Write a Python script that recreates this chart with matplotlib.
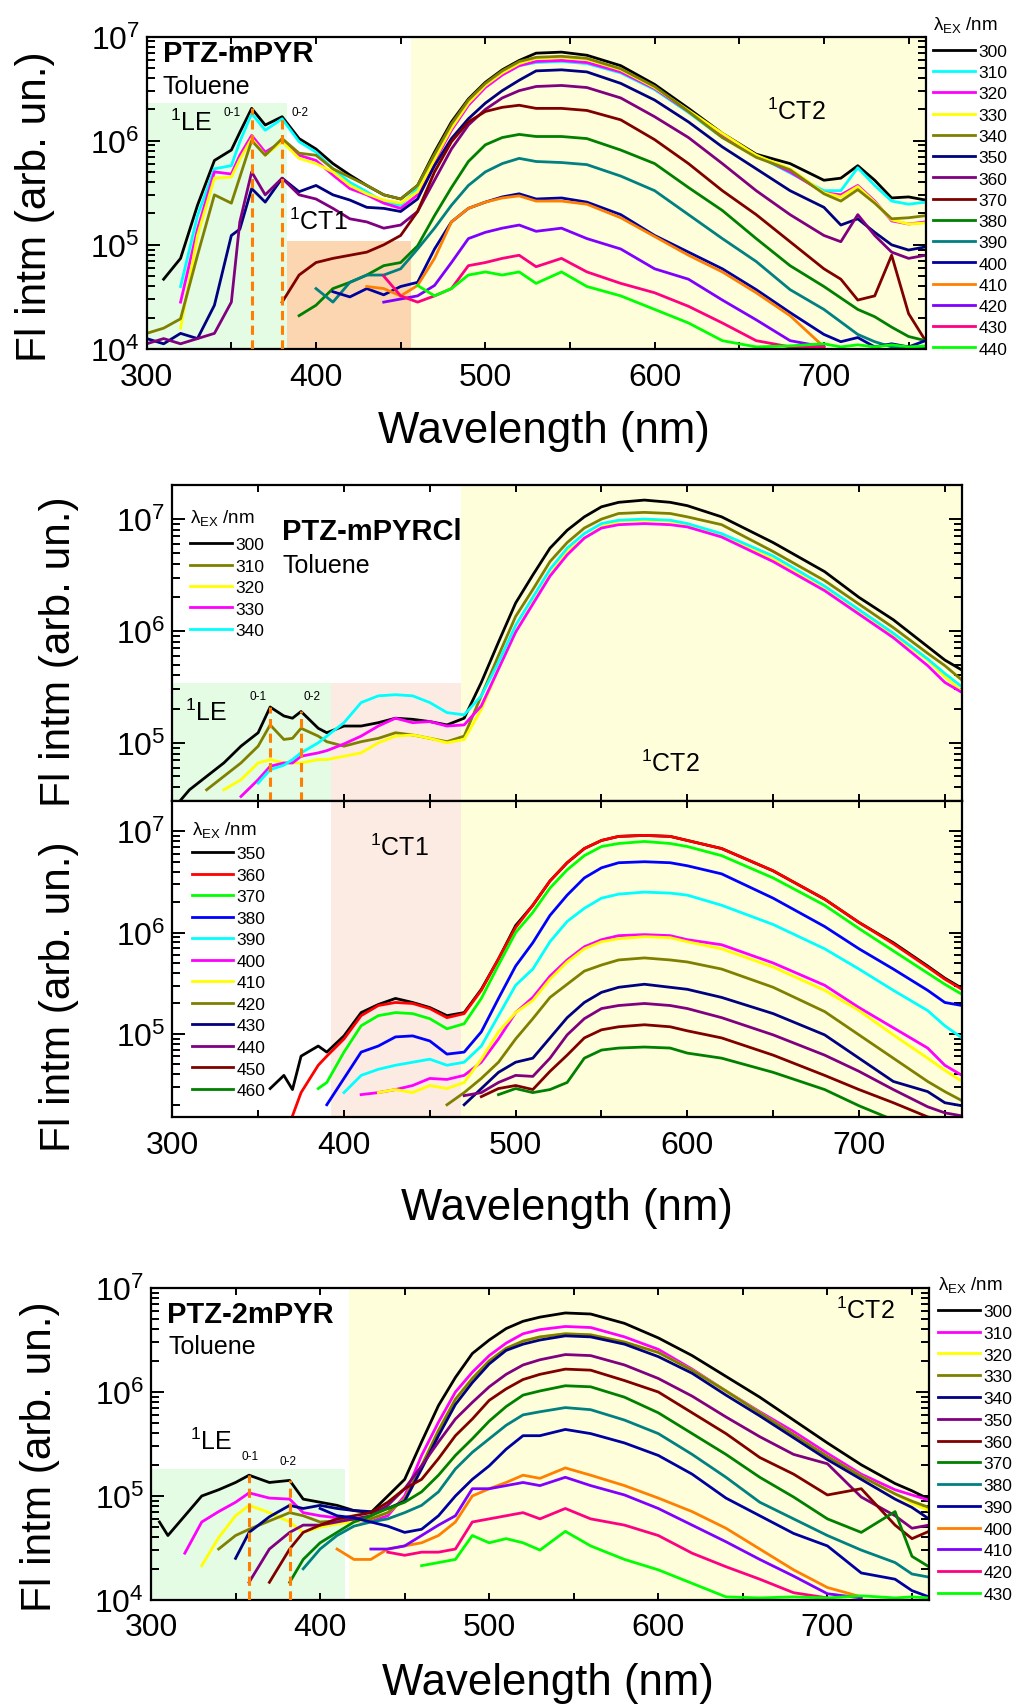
import numpy as np
import matplotlib
matplotlib.use("Agg")
import matplotlib.pyplot as plt
from matplotlib.ticker import MultipleLocator, LogLocator, NullFormatter, FuncFormatter

nan = np.nan

# log10(Fl intensity), one list per excitation wavelength

# --- PTZ-mPYR ---
wl_a = [300, 310, 320, 330, 340, 350, 355, 362, 370, 380, 390, 400, 410, 420, 430, 440, 450, 460, 470, 480,
        490, 500, 510, 520, 530, 545, 560, 580, 600, 620, 640, 660, 680, 700, 710, 720, 730, 740, 750, 760]
a300 = [nan, 4.67, 4.87, 5.38, 5.81, 5.91, 6.08, 6.31, 6.15, 6.23, 6.02, 5.92, 5.78, 5.67, 5.57, 5.48, 5.44, 5.57, 5.89, 6.18,
        6.40, 6.56, 6.68, 6.77, 6.84, 6.85, 6.82, 6.72, 6.54, 6.31, 6.07, 5.87, 5.78, 5.62, 5.64, 5.76, 5.62, 5.45, 5.46, 5.43]
a310 = [nan, nan, 4.60, 5.28, 5.73, 5.76, 5.99, 6.26, 6.10, 6.21, 5.99, 5.89, 5.73, 5.60, 5.51, 5.41, 5.38, 5.54, 5.84, 6.13,
        6.36, 6.52, 6.64, 6.72, 6.75, 6.76, 6.74, 6.65, 6.49, 6.27, 6.03, 5.86, 5.69, 5.52, 5.52, 5.74, 5.57, 5.42, 5.39, 5.41]
a320 = [nan, nan, 4.45, 5.15, 5.70, 5.68, 5.86, 6.05, 5.89, 5.99, 5.86, 5.81, 5.67, 5.54, 5.48, 5.40, 5.35, 5.48, 5.80, 6.10,
        6.34, 6.51, 6.63, 6.72, 6.76, 6.77, 6.75, 6.66, 6.50, 6.28, 6.05, 5.86, 5.70, 5.50, 5.48, 5.57, 5.42, 5.23, 5.20, 5.22]
a330 = [nan, nan, 4.20, 5.09, 5.64, 5.65, 5.82, 6.02, 5.86, 5.99, 5.83, 5.78, 5.70, 5.57, 5.49, 5.43, 5.40, 5.51, 5.82, 6.12,
        6.36, 6.53, 6.65, 6.74, 6.79, 6.80, 6.78, 6.68, 6.51, 6.29, 6.07, 5.86, 5.73, 5.50, 5.46, 5.56, 5.41, 5.24, 5.20, 5.21]
a340 = [4.15, 4.20, 4.29, 4.90, 5.48, 5.40, 5.65, 6.00, 5.86, 6.02, 5.88, 5.86, 5.73, 5.65, 5.57, 5.48, 5.44, 5.57, 5.87, 6.16,
        6.39, 6.55, 6.67, 6.76, 6.80, 6.81, 6.79, 6.69, 6.52, 6.28, 6.03, 5.84, 5.72, 5.49, 5.42, 5.53, 5.40, 5.25, 5.26, 5.28]
a350 = [4.10, 4.05, 4.15, 4.10, 4.42, 5.09, 5.15, 5.54, 5.41, 5.64, 5.51, 5.57, 5.48, 5.43, 5.36, 5.35, 5.32, 5.44, 5.76, 6.02,
        6.21, 6.36, 6.48, 6.58, 6.67, 6.68, 6.66, 6.55, 6.39, 6.18, 5.94, 5.73, 5.52, 5.36, 5.19, 5.25, 5.12, 5.00, 4.95, 4.98]
a360 = [4.05, 4.10, 4.05, 4.10, 4.15, 4.45, 5.22, 5.70, 5.48, 5.64, 5.48, 5.44, 5.35, 5.25, 5.22, 5.16, 5.19, 5.32, 5.62, 5.92,
        6.15, 6.30, 6.41, 6.48, 6.52, 6.53, 6.51, 6.41, 6.23, 6.03, 5.78, 5.52, 5.29, 5.09, 5.03, 5.29, 5.09, 4.93, 4.87, 4.90]
a370 = [nan, nan, nan, nan, nan, nan, nan, nan, nan, 4.45, 4.71, 4.83, 4.87, 4.90, 4.93, 5.00, 5.09, 5.32, 5.70, 5.99,
        6.18, 6.28, 6.32, 6.34, 6.31, 6.31, 6.29, 6.20, 6.01, 5.78, 5.52, 5.29, 5.03, 4.77, 4.67, 4.47, 4.51, 4.90, 4.34, 4.08]
a380 = [nan, nan, nan, nan, nan, nan, nan, nan, nan, nan, 4.32, 4.42, 4.58, 4.64, 4.71, 4.80, 4.83, 4.99, 5.28, 5.55,
        5.80, 5.96, 6.03, 6.06, 6.04, 6.04, 6.02, 5.91, 5.78, 5.55, 5.33, 5.06, 4.80, 4.60, 4.49, 4.38, 4.31, 4.21, 4.12, 4.08]
a390 = [nan, nan, nan, nan, nan, nan, nan, nan, nan, nan, nan, 4.58, 4.45, 4.64, 4.71, 4.71, 4.77, 4.96, 5.16, 5.38,
        5.57, 5.70, 5.78, 5.83, 5.80, 5.79, 5.77, 5.66, 5.52, 5.29, 5.06, 4.84, 4.57, 4.38, 4.26, 4.14, 4.07, 4.02, 4.02, 4.02]
a400 = [nan, nan, nan, nan, nan, nan, nan, nan, nan, nan, nan, nan, 4.55, 4.50, 4.58, 4.52, 4.60, 4.64, 4.96, 5.22,
        5.35, 5.41, 5.46, 5.49, 5.44, 5.45, 5.41, 5.29, 5.09, 4.93, 4.77, 4.57, 4.35, 4.14, 4.07, 4.11, 4.02, 4.05, 4.02, 4.08]
a410 = [nan, nan, nan, nan, nan, nan, nan, nan, nan, nan, nan, nan, nan, nan, 4.60, 4.58, 4.51, 4.61, 4.87, 5.22,
        5.35, 5.41, 5.45, 5.47, 5.42, 5.42, 5.39, 5.26, 5.08, 4.90, 4.74, 4.54, 4.32, 4.02, nan, nan, nan, nan, nan, nan]
a420 = [nan, nan, nan, nan, nan, nan, nan, nan, nan, nan, nan, nan, nan, nan, nan, 4.45, 4.48, 4.51, 4.61, 4.83,
        5.06, 5.12, 5.16, 5.19, 5.13, 5.16, 5.06, 4.96, 4.77, 4.67, 4.47, 4.28, 4.08, 4.02, nan, nan, nan, nan, nan, nan]
a430 = [nan, nan, nan, nan, nan, nan, nan, nan, nan, nan, nan, nan, nan, nan, nan, 4.70, 4.51, 4.45, 4.51, 4.58,
        4.80, 4.83, 4.87, 4.90, 4.79, 4.87, 4.74, 4.63, 4.54, 4.41, 4.25, 4.08, 4.02, 4.02, nan, nan, nan, nan, nan, nan]
a440 = [nan, nan, nan, nan, nan, nan, nan, nan, nan, nan, nan, nan, nan, nan, nan, nan, nan, 4.61, 4.51, 4.58,
        4.71, 4.74, 4.71, 4.74, 4.63, 4.74, 4.60, 4.51, 4.38, 4.25, 4.08, 4.02, 4.03, 4.05, 4.02, 4.04, 4.02, 4.04, 4.02, 4.03]
lab_a = ['300', '310', '320', '330', '340', '350', '360', '370', '380', '390', '400', '410', '420', '430', '440']
col_a = ['#000000', '#00ffff', '#ff00ff', '#ffff00', '#808000', '#000080', '#800080', '#800000',
         '#008000', '#008080', '#0000a0', '#ff8000', '#8000ff', '#ff0080', '#00ff00']
peaks_a = [362, 380]

# --- PTZ-mPYRCl ---
wl_b = [300, 305, 310, 320, 330, 340, 350, 357, 365, 370, 375, 385, 390, 400, 410, 420, 430, 440, 450, 460, 470,
        480, 490, 500, 510, 520, 530, 540, 550, 560, 575, 590, 600, 620, 650, 680, 700, 720, 740, 750, 760]
b300 = [nan, 4.49, 4.58, 4.70, 4.82, 4.97, 5.09, 5.32, 5.24, 5.22, 5.28, 5.13, 5.09, 5.15, 5.15, 5.18, 5.22, 5.21, 5.19, 5.16, 5.22,
        5.54, 5.90, 6.25, 6.50, 6.74, 6.90, 7.02, 7.11, 7.15, 7.17, 7.15, 7.12, 7.02, 6.79, 6.53, 6.30, 6.10, 5.86, 5.74, 5.65]
b310 = [nan, nan, nan, 4.58, 4.70, 4.82, 4.97, 5.16, 5.03, 5.04, 5.13, 5.06, 5.01, 4.97, 5.01, 5.04, 5.09, 5.07, 5.04, 5.01, 5.06,
        5.42, 5.78, 6.13, 6.37, 6.62, 6.79, 6.92, 7.00, 7.05, 7.06, 7.05, 7.02, 6.95, 6.71, 6.45, 6.24, 6.03, 5.80, 5.69, 5.56]
b320 = [nan, nan, nan, nan, 4.58, 4.67, 4.82, 4.85, 4.82, 4.82, 4.82, 4.85, 4.85, 4.88, 4.91, 5.00, 5.06, 5.07, 5.04, 5.00, 5.03,
        5.30, 5.66, 5.99, 6.25, 6.50, 6.71, 6.83, 6.93, 6.98, 6.99, 6.98, 6.95, 6.86, 6.64, 6.37, 6.16, 5.96, 5.74, 5.59, 5.46]
b330 = [nan, nan, nan, nan, nan, 4.52, 4.67, 4.79, 4.82, 4.82, 4.88, 4.91, 4.93, 4.99, 5.06, 5.15, 5.22, 5.18, 5.19, 5.15, 5.16,
        5.33, 5.66, 5.99, 6.24, 6.49, 6.68, 6.83, 6.92, 6.95, 6.96, 6.95, 6.93, 6.84, 6.62, 6.36, 6.15, 5.94, 5.69, 5.54, 5.45]
b340 = [nan, nan, nan, nan, nan, nan, 4.64, 4.76, 4.80, 4.85, 4.91, 5.00, 5.06, 5.18, 5.36, 5.42, 5.43, 5.42, 5.36, 5.27, 5.25,
        5.42, 5.72, 6.05, 6.30, 6.55, 6.74, 6.87, 6.96, 6.99, 7.00, 6.99, 6.96, 6.87, 6.67, 6.40, 6.19, 5.98, 5.75, 5.62, 5.50]
lab_b1 = ['300', '310', '320', '330', '340']
col_b1 = ['#000000', '#808000', '#ffff00', '#ff00ff', '#00ffff']
peaks_b = [357, 375]

c350 = [nan, nan, nan, nan, nan, nan, nan, 4.46, 4.59, 4.45, 4.78, 4.88, 4.82, 4.98, 5.21, 5.29, 5.35, 5.31, 5.26, 5.18, 5.21,
        5.44, 5.74, 6.07, 6.27, 6.51, 6.69, 6.83, 6.91, 6.95, 6.96, 6.95, 6.91, 6.83, 6.61, 6.33, 6.10, 5.90, 5.67, 5.55, 5.45]
c360 = [nan, nan, nan, nan, nan, nan, nan, nan, nan, 4.19, 4.42, 4.69, 4.78, 4.95, 5.18, 5.28, 5.31, 5.30, 5.25, 5.16, 5.20,
        5.43, 5.74, 6.05, 6.27, 6.51, 6.69, 6.83, 6.91, 6.95, 6.96, 6.95, 6.91, 6.83, 6.61, 6.33, 6.10, 5.89, 5.66, 5.54, 5.44]
c370 = [nan, nan, nan, nan, nan, nan, nan, nan, nan, nan, nan, 4.46, 4.52, 4.82, 5.08, 5.18, 5.21, 5.20, 5.15, 5.05, 5.10,
        5.35, 5.68, 6.00, 6.20, 6.44, 6.62, 6.76, 6.85, 6.88, 6.90, 6.88, 6.85, 6.76, 6.54, 6.27, 6.04, 5.82, 5.60, 5.49, 5.39]
c380 = [nan, nan, nan, nan, nan, nan, nan, nan, nan, nan, nan, nan, 4.30, 4.56, 4.82, 4.88, 4.97, 4.98, 4.93, 4.80, 4.82,
        5.02, 5.35, 5.67, 5.90, 6.17, 6.37, 6.54, 6.64, 6.69, 6.70, 6.69, 6.66, 6.58, 6.34, 6.06, 5.84, 5.64, 5.43, 5.31, 5.28]
c390 = [nan, nan, nan, nan, nan, nan, nan, nan, nan, nan, nan, nan, nan, 4.42, 4.59, 4.65, 4.69, 4.72, 4.75, 4.69, 4.72,
        4.88, 5.18, 5.48, 5.64, 5.91, 6.11, 6.24, 6.34, 6.38, 6.40, 6.39, 6.37, 6.27, 6.08, 5.84, 5.64, 5.43, 5.23, 5.08, 4.96]
c400 = [nan, nan, nan, nan, nan, nan, nan, nan, nan, nan, nan, nan, nan, nan, 4.40, 4.42, 4.45, 4.49, 4.56, 4.55, 4.59,
        4.72, 4.95, 5.21, 5.36, 5.57, 5.73, 5.86, 5.93, 5.97, 5.98, 5.97, 5.93, 5.88, 5.70, 5.48, 5.26, 5.06, 4.86, 4.69, 4.59]
c410 = [nan, nan, nan, nan, nan, nan, nan, nan, nan, nan, nan, nan, nan, nan, nan, 4.42, 4.45, 4.42, 4.49, 4.46, 4.52,
        4.75, 5.02, 5.21, 5.33, 5.54, 5.71, 5.84, 5.91, 5.94, 5.96, 5.95, 5.91, 5.84, 5.66, 5.43, 5.23, 4.99, 4.76, 4.64, 4.53]
c420 = [nan, nan, nan, nan, nan, nan, nan, nan, nan, nan, nan, nan, nan, nan, nan, nan, nan, nan, nan, 4.30, 4.42,
        4.56, 4.72, 4.95, 5.15, 5.36, 5.49, 5.62, 5.68, 5.73, 5.75, 5.73, 5.71, 5.64, 5.46, 5.22, 4.99, 4.76, 4.53, 4.43, 4.34]
c430 = [nan, nan, nan, nan, nan, nan, nan, nan, nan, nan, nan, nan, nan, nan, nan, nan, nan, nan, nan, nan, 4.30,
        4.46, 4.62, 4.72, 4.76, 4.96, 5.16, 5.31, 5.41, 5.46, 5.49, 5.46, 5.44, 5.36, 5.20, 4.99, 4.76, 4.53, 4.43, 4.32, 4.29]
c440 = [nan, nan, nan, nan, nan, nan, nan, nan, nan, nan, nan, nan, nan, nan, nan, nan, nan, nan, nan, nan, 4.39,
        4.42, 4.52, 4.59, 4.58, 4.76, 4.99, 5.15, 5.25, 5.28, 5.30, 5.28, 5.25, 5.16, 4.99, 4.79, 4.63, 4.45, 4.28, 4.22, 4.19]
c450 = [nan, nan, nan, nan, nan, nan, nan, nan, nan, nan, nan, nan, nan, nan, nan, nan, nan, nan, nan, nan, nan,
        4.38, 4.46, 4.49, 4.45, 4.63, 4.79, 4.96, 5.04, 5.07, 5.09, 5.07, 5.03, 4.96, 4.79, 4.59, 4.45, 4.32, 4.18, 4.14, 4.14]
c460 = [nan, nan, nan, nan, nan, nan, nan, nan, nan, nan, nan, nan, nan, nan, nan, nan, nan, nan, nan, nan, nan,
        nan, 4.40, 4.46, 4.42, 4.45, 4.52, 4.76, 4.84, 4.86, 4.87, 4.86, 4.81, 4.76, 4.62, 4.45, 4.29, 4.15, 4.12, 4.13, 4.12]
lab_b2 = ['350', '360', '370', '380', '390', '400', '410', '420', '430', '440', '450', '460']
col_b2 = ['#000000', '#ff0000', '#00ff00', '#0000ff', '#00ffff', '#ff00ff', '#ffff00', '#808000',
          '#000080', '#800080', '#800000', '#008000']

# --- PTZ-2mPYR ---
wl_c = [300, 305, 310, 320, 330, 340, 350, 358, 370, 382, 390, 400, 410, 420, 430, 440, 450, 460, 470,
        480, 490, 500, 510, 520, 530, 545, 560, 580, 600, 620, 640, 660, 680, 700, 720, 740, 750, 760]
d300 = [nan, 4.75, 4.62, 4.81, 5.00, 5.06, 5.13, 5.20, 5.13, 5.15, 4.97, 4.94, 4.91, 4.86, 4.84, 5.00, 5.16, 5.52, 5.87,
        6.14, 6.37, 6.50, 6.61, 6.68, 6.72, 6.76, 6.75, 6.66, 6.52, 6.35, 6.15, 5.95, 5.73, 5.51, 5.30, 5.12, 5.05, 4.97]
d310 = [nan, nan, nan, 4.45, 4.75, 4.85, 4.94, 5.03, 4.98, 4.97, 4.84, 4.81, 4.79, 4.76, 4.76, 4.81, 5.00, 5.39, 5.71,
        6.00, 6.19, 6.35, 6.47, 6.56, 6.60, 6.63, 6.62, 6.53, 6.41, 6.22, 6.01, 5.81, 5.62, 5.41, 5.21, 5.06, 5.01, 4.96]
d320 = [nan, nan, nan, nan, 4.33, 4.60, 4.81, 4.91, 4.84, 4.75, 4.65, 4.70, 4.73, 4.75, 4.78, 4.84, 4.97, 5.29, 5.63,
        5.93, 6.13, 6.30, 6.42, 6.49, 6.53, 6.56, 6.55, 6.48, 6.38, 6.21, 6.01, 5.80, 5.59, 5.38, 5.19, 5.02, 4.93, 4.86]
d330 = [nan, nan, nan, nan, nan, 4.49, 4.62, 4.68, 4.76, 4.84, 4.81, 4.75, 4.76, 4.78, 4.78, 4.84, 4.97, 5.29, 5.63,
        5.93, 6.13, 6.30, 6.42, 6.49, 6.53, 6.56, 6.55, 6.48, 6.38, 6.21, 6.01, 5.80, 5.59, 5.38, 5.19, 5.02, 4.95, 4.89]
d340 = [nan, nan, nan, nan, nan, nan, 4.40, 4.65, 4.80, 4.91, 4.88, 4.91, 4.88, 4.86, 4.85, 4.88, 4.95, 5.26, 5.58,
        5.88, 6.09, 6.27, 6.40, 6.46, 6.50, 6.54, 6.53, 6.46, 6.34, 6.18, 5.97, 5.77, 5.56, 5.35, 5.16, 4.97, 4.89, 4.78]
d350 = [nan, nan, nan, nan, nan, nan, nan, 4.17, 4.49, 4.65, 4.72, 4.72, 4.75, 4.78, 4.81, 4.91, 5.07, 5.29, 5.52,
        5.74, 5.90, 6.05, 6.17, 6.26, 6.31, 6.36, 6.35, 6.26, 6.13, 5.96, 5.76, 5.57, 5.40, 5.31, 4.99, 4.81, 4.69, 4.72]
d360 = [nan, nan, nan, nan, nan, nan, nan, nan, 4.17, 4.49, 4.65, 4.72, 4.78, 4.81, 4.84, 4.94, 5.07, 5.16, 5.36,
        5.58, 5.74, 5.92, 6.03, 6.12, 6.17, 6.22, 6.21, 6.11, 6.00, 5.80, 5.60, 5.37, 5.21, 5.01, 5.07, 4.72, 4.59, 4.66]
d370 = [nan, nan, nan, nan, nan, nan, nan, nan, nan, 4.17, 4.39, 4.55, 4.65, 4.75, 4.81, 4.88, 4.94, 5.04, 5.20,
        5.39, 5.55, 5.72, 5.86, 5.97, 6.01, 6.06, 6.05, 5.95, 5.80, 5.60, 5.40, 5.18, 4.99, 4.78, 4.65, 4.85, 4.42, 4.32]
d380 = [nan, nan, nan, nan, nan, nan, nan, nan, nan, nan, 4.30, 4.49, 4.62, 4.71, 4.75, 4.78, 4.84, 4.91, 5.04,
        5.26, 5.42, 5.55, 5.68, 5.78, 5.81, 5.85, 5.83, 5.73, 5.60, 5.40, 5.18, 4.94, 4.78, 4.62, 4.48, 4.36, 4.25, 4.22]
d390 = [nan, nan, nan, nan, nan, nan, nan, nan, nan, nan, nan, 4.88, 4.81, 4.79, 4.75, 4.71, 4.65, 4.68, 4.81,
        5.00, 5.16, 5.29, 5.45, 5.58, 5.58, 5.64, 5.60, 5.51, 5.39, 5.21, 4.98, 4.81, 4.64, 4.52, 4.26, 4.20, 4.09, 4.03]
d400 = [nan, nan, nan, nan, nan, nan, nan, nan, nan, nan, nan, nan, 4.49, 4.39, 4.39, 4.49, 4.52, 4.55, 4.62,
        4.75, 5.00, 5.07, 5.13, 5.20, 5.17, 5.27, 5.20, 5.10, 4.98, 4.85, 4.69, 4.49, 4.29, 4.12, 4.03, nan, nan, nan]
d410 = [nan, nan, nan, nan, nan, nan, nan, nan, nan, nan, nan, nan, nan, nan, 4.49, 4.49, 4.52, 4.62, 4.72,
        4.81, 5.07, 5.07, 5.10, 5.13, 5.10, 5.18, 5.10, 5.01, 4.88, 4.72, 4.56, 4.39, 4.23, 4.06, 4.02, nan, nan, nan]
d420 = [nan, nan, nan, nan, nan, nan, nan, nan, nan, nan, nan, nan, nan, nan, nan, 4.46, 4.43, 4.46, 4.46,
        4.49, 4.75, 4.78, 4.81, 4.84, 4.78, 4.88, 4.78, 4.72, 4.62, 4.45, 4.32, 4.20, 4.07, 4.02, nan, nan, nan, nan]
d430 = [nan, nan, nan, nan, nan, nan, nan, nan, nan, nan, nan, nan, nan, nan, nan, nan, nan, 4.33, 4.36,
        4.39, 4.62, 4.55, 4.59, 4.55, 4.48, 4.66, 4.52, 4.39, 4.29, 4.16, 4.03, 4.02, 4.03, 4.02, 4.04, 4.02, 4.03, 4.02]
lab_c = ['300', '310', '320', '330', '340', '350', '360', '370', '380', '390', '400', '410', '420', '430']
col_c = ['#000000', '#ff00ff', '#ffff00', '#808000', '#000080', '#800080', '#800000', '#008000',
         '#008080', '#0000a0', '#ff8000', '#8000ff', '#ff0080', '#00ff00']
peaks_c = [358, 382]

# ---------------------------------------------------------------
plt.rcParams['font.family'] = ['Liberation Sans', 'DejaVu Sans']
plt.rcParams['mathtext.fontset'] = 'custom'
plt.rcParams['mathtext.rm'] = 'Liberation Sans'
plt.rcParams['mathtext.it'] = 'Liberation Sans:italic'
plt.rcParams['mathtext.bf'] = 'Liberation Sans:bold'

W, H = 1016, 1706
fig = plt.figure(figsize=(W / 100, H / 100), dpi=100)

GREEN = '#e4fbe4'
YELLOW = '#fefedb'
PEACH = '#fcd6b0'
PINK = '#fcebe2'
DASH = '#ff8000'
HEADER = 'λ$_{\\rm EX}$ /nm'
LEG_FS = 12.5


def add_ax(l, t, r, b):
    return fig.add_axes([l / W, 1 - b / H, (r - l) / W, (b - t) / H])


def ftext(x, y, s, **kw):
    kw.setdefault('ha', 'left')
    kw.setdefault('va', 'center')
    fig.text(x / W, 1 - y / H, s, **kw)


def decade(v, pos):
    return r'$10^{%d}$' % int(round(np.log10(v)))


def style(ax, ylo, yhi, xlabels=True):
    ax.set_yscale('log')
    ax.set_xlim(300, 760)
    ax.set_ylim(ylo, yhi)
    ax.xaxis.set_major_locator(MultipleLocator(100))
    ax.xaxis.set_minor_locator(MultipleLocator(50))
    ax.yaxis.set_major_locator(LogLocator(base=10))
    ax.yaxis.set_minor_locator(LogLocator(base=10, subs=np.arange(2, 10), numticks=20))
    ax.yaxis.set_major_formatter(FuncFormatter(decade))
    ax.yaxis.set_minor_formatter(NullFormatter())
    ax.tick_params(which='both', direction='in', top=True, right=True, width=1.4)
    ax.tick_params(axis='x', which='both', length=5, labelsize=23, pad=9, labelbottom=xlabels)
    ax.tick_params(axis='y', which='major', length=9.5, labelsize=23, pad=5)
    ax.tick_params(axis='y', which='minor', length=5.5)
    for s in ax.spines.values():
        s.set_linewidth(1.6)


def shade(ax, x0, x1, y0, y1, color):
    ax.fill_between([x0, x1], y0, y1, color=color, lw=0, zorder=0)


def draw(ax, wl, series, colors):
    lines = []
    for ys, c in zip(series, colors):
        ln, = ax.plot(wl, 10 ** np.array(ys), color=c, lw=2.0, zorder=2)
        lines.append(ln)
    return lines


def dashes(ax, wl, black, peaks, ylo):
    for p in peaks:
        ax.vlines(p, ylo, 10 ** black[wl.index(p)], colors=DASH, lw=2.2,
                  linestyles=(0, (3, 1.8)), zorder=3)


def legend(ax, lines, labels, x, y_head, y_first, pitch):
    # header text, then the entries; y_first is the centre of the first entry
    ftext(x, y_head, HEADER, fontsize=13.5)
    fs_px = LEG_FS * 100 / 72
    row = 0.906 * fs_px
    ax.legend(lines, labels, loc='upper left', bbox_to_anchor=(x / W, 1 - (y_first - row / 2) / H),
              bbox_transform=fig.transFigure, frameon=False, fontsize=LEG_FS,
              handlelength=2.4, handletextpad=0.2, labelspacing=(pitch - row) / fs_px,
              borderpad=0, borderaxespad=0)


# --- top panel ---
axA = add_ax(146.7, 37.5, 925.5, 350)
style(axA, 1e4, 1e7)
shade(axA, 300, 383, 1e4, 2.3e6, GREEN)
shade(axA, 383, 456, 1e4, 1.1e5, PEACH)
shade(axA, 456, 760, 1e4, 1e7, YELLOW)
la = draw(axA, wl_a, [a300, a310, a320, a330, a340, a350, a360, a370, a380, a390,
                      a400, a410, a420, a430, a440], col_a)
dashes(axA, wl_a, a300, peaks_a, 1e4)
legend(axA, la, lab_a, 933, 25, 52.7, 21.83)

# --- middle panels ---
axB1 = add_ax(172.3, 485.7, 962, 802.3)
style(axB1, 3e4, 2.03e7, xlabels=False)
shade(axB1, 300, 392.4, 3e4, 3.4e5, GREEN)
shade(axB1, 392.4, 468, 3e4, 3.4e5, PINK)
shade(axB1, 468, 760, 3e4, 2.03e7, YELLOW)
lb1 = draw(axB1, wl_b, [b300, b310, b320, b330, b340], col_b1)
dashes(axB1, wl_b, b300, peaks_b, 3e4)
legend(axB1, lb1, lab_b1, 190, 518, 546, 22.0)

axB2 = add_ax(172.3, 802.3, 962, 1118.3)
style(axB2, 1.5e4, 1.98e7)
shade(axB2, 392.4, 468, 1.5e4, 1.98e7, PINK)
shade(axB2, 468, 760, 1.5e4, 1.98e7, YELLOW)
lb2 = draw(axB2, wl_b, [c350, c360, c370, c380, c390, c400, c410, c420,
                        c430, c440, c450, c460], col_b2)
legend(axB2, lb2, lab_b2, 191.7, 830, 855, 22.1)

# --- bottom panel ---
axC = add_ax(151, 1289, 928.9, 1601)
style(axC, 1e4, 1e7)
shade(axC, 300, 414.6, 1e4, 1.8e5, GREEN)
shade(axC, 417, 760, 1e4, 1e7, YELLOW)
lc = draw(axC, wl_c, [d300, d310, d320, d330, d340, d350, d360, d370, d380, d390,
                      d400, d410, d420, d430], col_c)
dashes(axC, wl_c, d300, peaks_c, 1e4)
legend(axC, lc, lab_c, 938, 1285, 1312.7, 22.35)

# --- annotations ---
ftext(162.7, 54, 'PTZ-mPYR', fontsize=21, fontweight='bold')
ftext(162.7, 86.7, 'Toluene', fontsize=18)
ftext(170, 123, '$^{1}$LE', fontsize=18)
ftext(224, 113, '0-1', fontsize=8.5)
ftext(291.7, 113, '0-2', fontsize=8.5)
ftext(289, 222, '$^{1}$CT1', fontsize=18)
ftext(767, 112, '$^{1}$CT2', fontsize=18)

ftext(281.7, 531.7, 'PTZ-mPYRCl', fontsize=21, fontweight='bold')
ftext(282.7, 566, 'Toluene', fontsize=18)
ftext(185, 713, '$^{1}$LE', fontsize=18)
ftext(249.3, 697, '0-1', fontsize=8.5)
ftext(303.3, 697, '0-2', fontsize=8.5)
ftext(640.7, 764, '$^{1}$CT2', fontsize=18)
ftext(370, 847.5, '$^{1}$CT1', fontsize=18)

ftext(166.7, 1315, 'PTZ-2mPYR', fontsize=21, fontweight='bold')
ftext(168.3, 1346.7, 'Toluene', fontsize=18)
ftext(190, 1441.7, '$^{1}$LE', fontsize=18)
ftext(241.7, 1457, '0-1', fontsize=8.5)
ftext(280, 1462, '0-2', fontsize=8.5)
ftext(835.5, 1311, '$^{1}$CT2', fontsize=18)

# axis titles
ylab = 'Fl intm (arb. un.)'
for x, y in [(35, 207), (59, 652), (59, 997), (40, 1457)]:
    ftext(x, y, ylab, fontsize=30.5, rotation=90, ha='center', va='center')
for x, y in [(544, 443), (567, 1220), (548, 1695)]:
    ftext(x, y, 'Wavelength (nm)', fontsize=31.5, ha='center', va='baseline')

fig.savefig('out.png', dpi=100)
